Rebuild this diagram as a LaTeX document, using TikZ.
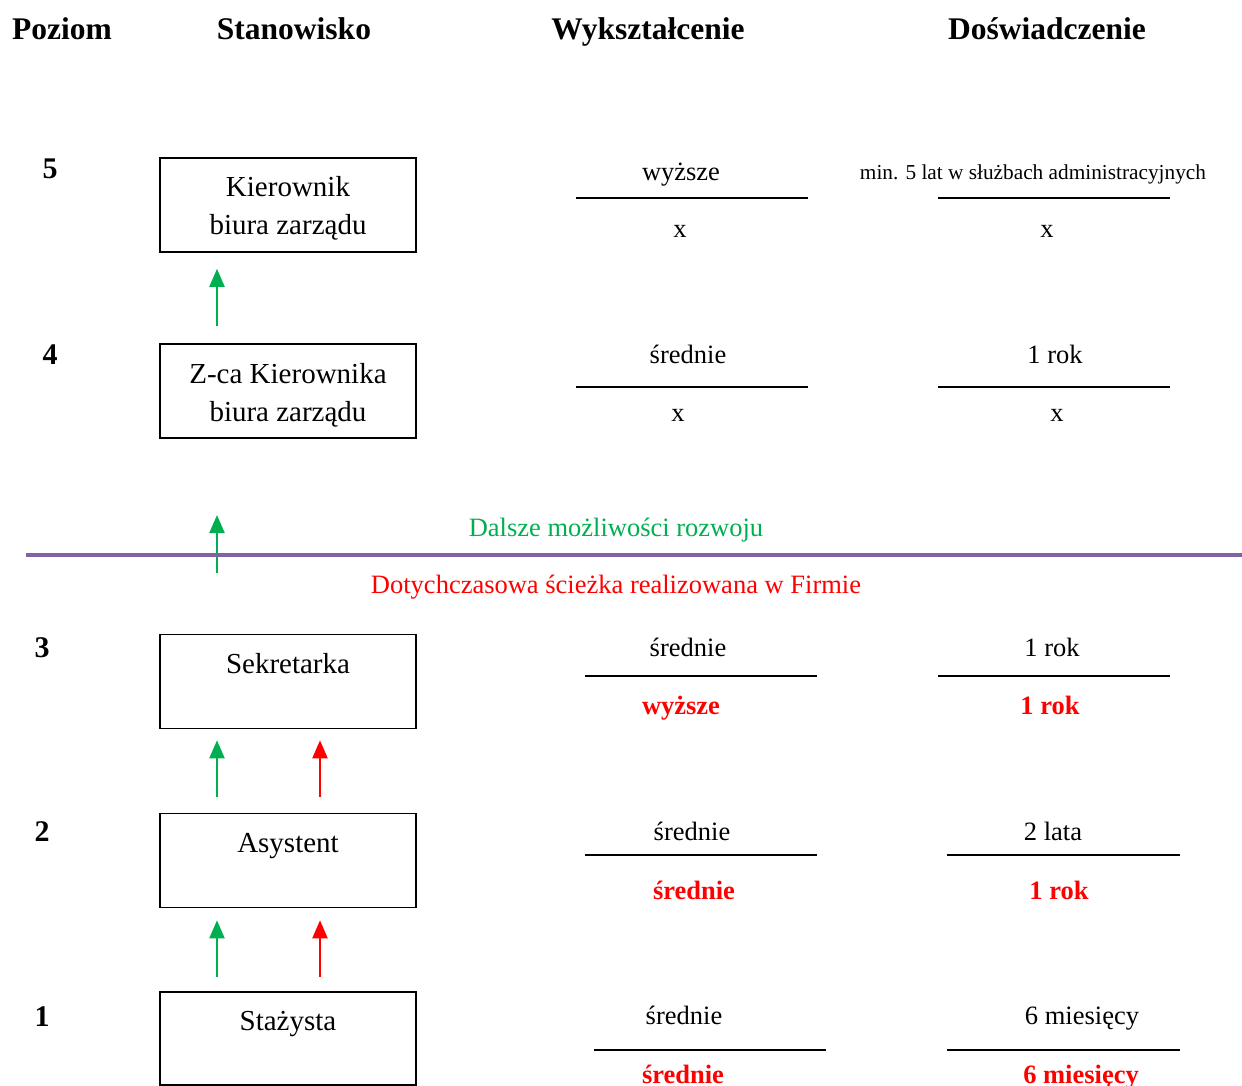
\documentclass[tikz,border=0pt]{standalone}
\usepackage{fontspec}
\setmainfont{Liberation Serif}
\usetikzlibrary{arrows.meta}
\definecolor{pathgreen}{HTML}{00B050}
\definecolor{pathred}{HTML}{FF0000}
\definecolor{divider}{HTML}{8064A2}
\begin{document}
\begin{tikzpicture}[x=1pt,y=-1pt,
  header/.style={font=\fontsize{31.5}{36}\selectfont\bfseries, anchor=base, inner sep=0, yshift=-1.5pt},
  level/.style={font=\fontsize{30}{34}\selectfont\bfseries, anchor=base, inner sep=0, yshift=-1pt},
  stbox/.style={draw, line width=1.6pt, minimum width=256pt, minimum height=94pt, inner sep=0},
  boxtxt/.style={font=\fontsize{29}{38}\selectfont, align=center, anchor=north, inner sep=0},
  req/.style={font=\fontsize{26.5}{30}\selectfont, anchor=base, inner sep=0, yshift=-1.5pt},
  reqsmall/.style={font=\fontsize{21.3}{25}\selectfont, anchor=base, inner sep=0, yshift=-1.5pt},
  done/.style={font=\fontsize{26.5}{30}\selectfont\bfseries, text=pathred, anchor=base, inner sep=0, yshift=-1.5pt},
  rule/.style={line width=1.6pt},
  uparrow/.style={line width=2.2pt, -{Triangle[width=15pt,length=18pt]}},
  garrow/.style={uparrow, draw=pathgreen},
  rarrow/.style={uparrow, draw=pathred}
]
\useasboundingbox (0,0) rectangle (1242,1086);

% column headers
\node[header] (hPoz) at (62,38) {Poziom};
\node[header] (hSta) at (294,38) {Stanowisko};
\node[header] (hWyk) at (648,38) {Wykształcenie};
\node[header] (hDos) at (1047,38) {Doświadczenie};

% level numbers
\node[level] (n5) at (50,178) {5};
\node[level] (n4) at (50,363) {4};
\node[level] (n3) at (42,656) {3};
\node[level] (n2) at (42,840) {2};
\node[level] (n1) at (42,1025) {1};

% position boxes
\node[stbox] (b5) at (288,205) {};
\node[stbox] (b4) at (288,391) {};
\node[stbox] (b3) at (288,681.5) {};
\node[stbox] (b2) at (288,860.5) {};
\node[stbox, minimum height=93pt] (b1) at (288,1038.5) {};

\node[boxtxt] (t5) at ([yshift=-13pt]b5.north) {\strut Kierownik\\biura zarządu};
\node[boxtxt] (t4) at ([yshift=-13pt]b4.north) {\strut Z-ca Kierownika\\biura zarządu};
\node[boxtxt] (t3) at ([yshift=-13pt]b3.north) {\strut Sekretarka};
\node[boxtxt] (t2) at ([yshift=-13pt]b2.north) {\strut Asystent};
\node[boxtxt] (t1) at ([yshift=-12pt]b1.north) {\strut Stażysta};

% promotion arrows
\draw[garrow] ([xshift=-71pt,yshift=17pt]b4.north) -- ([xshift=-71pt,yshift=-16pt]b5.south);
\coordinate (gs) at (217,573);
\coordinate (ge) at (217,515);
\draw[garrow] (gs) -- (ge);
\draw[garrow] ([xshift=-71pt,yshift=16pt]b2.north) -- ([xshift=-71pt,yshift=-11pt]b3.south);
\draw[rarrow] ([xshift=32pt,yshift=16pt]b2.north) -- ([xshift=32pt,yshift=-11pt]b3.south);
\draw[garrow] ([xshift=-71pt,yshift=14pt]b1.north) -- ([xshift=-71pt,yshift=-12pt]b2.south);
\draw[rarrow] ([xshift=32pt,yshift=14pt]b1.north) -- ([xshift=32pt,yshift=-12pt]b2.south);

% divider between future and realised path
\coordinate (dl) at (26,555);
\coordinate (dr) at (1242,555);
\draw[divider, line width=3.6pt] (dl) -- (dr);
\node[req, text=pathgreen] (future) at (616,535) {Dalsze możliwości rozwoju};
\node[req, text=pathred] (past) at (616,592) {Dotychczasowa ścieżka realizowana w Firmie};

% level 5 requirements
\node[req] (w5) at (681,179) {wyższe};
\draw[rule] (576,198) -- (808,198);
\node[req] (w5x) at (680,236) {x};
\node[reqsmall] (d5) at (1033,178) {min. 5 lat w służbach administracyjnych};
\draw[rule] (938,198) -- (1170,198);
\node[req] (d5x) at (1047,236) {x};

% level 4 requirements
\node[req] (w4) at (688,362) {średnie};
\draw[rule] (576,387) -- (808,387);
\node[req] (w4x) at (678,420) {x};
\node[req] (d4) at (1055,362) {1 rok};
\draw[rule] (938,387) -- (1170,387);
\node[req] (d4x) at (1057,420) {x};

% level 3 requirements
\node[req] (w3) at (688,655) {średnie};
\draw[rule] (585,676) -- (817,676);
\node[done] (w3r) at (681,713) {wyższe};
\node[req] (d3) at (1052,655) {1 rok};
\draw[rule] (938,676) -- (1170,676);
\node[done] (d3r) at (1050,713) {1 rok};

% level 2 requirements
\node[req] (w2) at (692,839) {średnie};
\draw[rule] (585,855) -- (817,855);
\node[done] (w2r) at (694,898) {średnie};
\node[req] (d2) at (1053,839) {2 lata};
\draw[rule] (947,855) -- (1180,855);
\node[done] (d2r) at (1059,898) {1 rok};

% level 1 requirements
\node[req] (w1) at (684,1023) {średnie};
\draw[rule] (594,1050) -- (826,1050);
\node[done] (w1r) at (683,1082) {średnie};
\node[req] (d1) at (1082,1023) {6 miesięcy};
\draw[rule] (947,1050) -- (1180,1050);
\node[done] (d1r) at (1081,1082) {6 miesięcy};
\end{tikzpicture}
\end{document}
